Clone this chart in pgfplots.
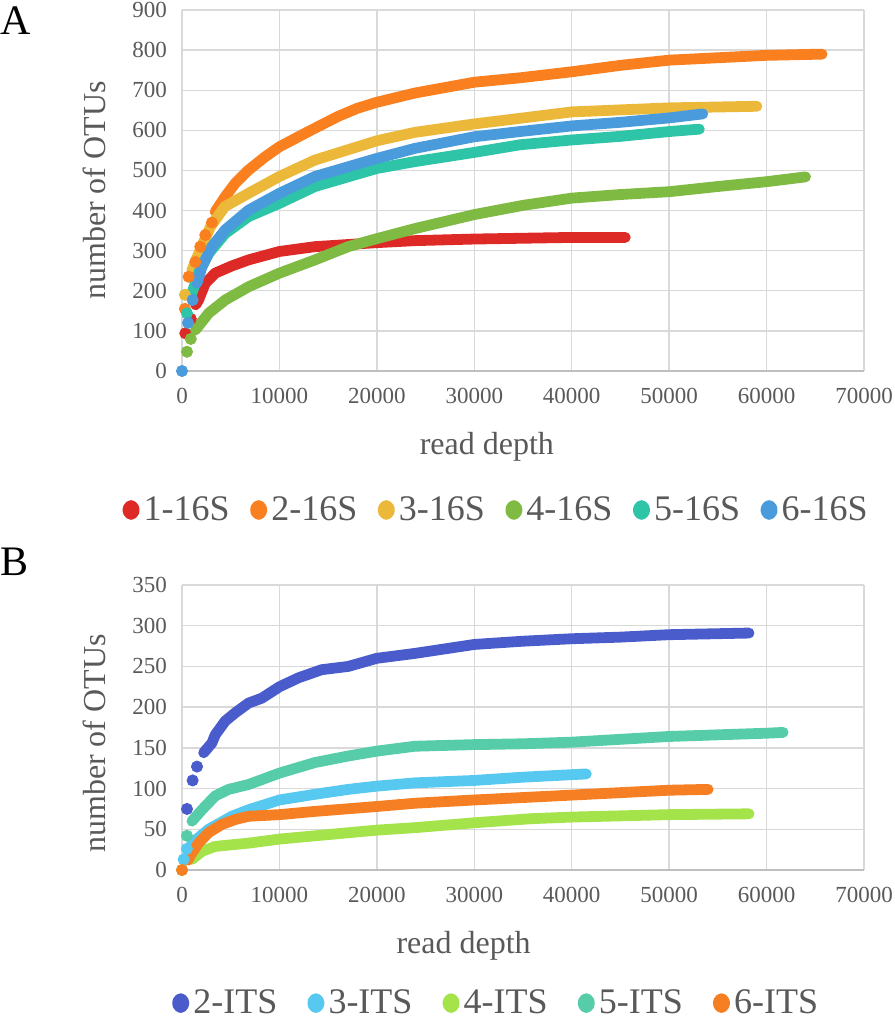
\documentclass[border=0pt]{standalone}
\usepackage{fontspec}
\setmainfont{Liberation Serif}
\usepackage{pgfplots}
\pgfplotsset{compat=1.18}

\definecolor{txt}{RGB}{89,89,89}
\definecolor{gridc}{RGB}{217,217,217}
\definecolor{axc}{RGB}{191,191,191}
% panel A
\definecolor{sA1}{RGB}{222,42,38}
\definecolor{sA2}{RGB}{249,127,31}
\definecolor{sA3}{RGB}{235,184,57}
\definecolor{sA4}{RGB}{127,186,66}
\definecolor{sA5}{RGB}{46,196,168}
\definecolor{sA6}{RGB}{74,155,220}
% panel B
\definecolor{sB2}{RGB}{74,92,203}
\definecolor{sB3}{RGB}{87,200,240}
\definecolor{sB4}{RGB}{165,227,74}
\definecolor{sB5}{RGB}{86,204,168}
\definecolor{sB6}{RGB}{245,127,34}

\pgfplotsset{
  rare/.style={
    scale only axis, width=341pt,
    xmin=0, xmax=70000, xtick={0,10000,...,70000},
    scaled x ticks=false, scaled y ticks=false,
    /pgf/number format/1000 sep={},
    /pgf/number format/assume math mode=true,
    grid=major, grid style={line width=0.7pt, gridc},
    axis lines*=left,
    y axis line style={draw=none},
    x axis line style={line width=1pt, axc},
    major tick length=0pt,
    tick label style={font=\fontsize{11.5}{13}\selectfont, text=txt},
    xticklabel style={yshift=-5pt},
    yticklabel style={xshift=-4pt},
    label style={font=\fontsize{16}{18}\selectfont, text=txt},
    xlabel={read depth},
    ylabel={number of OTUs},
    legend columns=-1,
    legend style={draw=none, fill=none, font=\fontsize{18}{20}\selectfont, text=txt},
    legend image code/.code={\fill[#1] (0.25em,0) ellipse (1.6pt and 2.2pt);},
  },
  band/.style={line width=5.4pt, line cap=round, line join=round},
  dots/.style={only marks, mark=*, mark size=2.8pt, forget plot},
}

\begin{document}
\begin{tikzpicture}
\useasboundingbox (0,0) rectangle (447pt,-510.5pt);
\node[anchor=base west, inner sep=0pt, font=\fontsize{21}{22}\selectfont] at (0pt,-17.5pt) {A};
\node[anchor=base west, inner sep=0pt, font=\fontsize{21}{22}\selectfont] at (0pt,-287.5pt) {B};

%% ---- Panel A: 16S ----
\begin{axis}[rare,
  at={(91pt,-185.5pt)}, anchor=south west, height=180.5pt,
  ymin=0, ymax=900, ytick={0,100,...,900},
  xlabel style={at={(axis description cs:0.447,0)}, anchor=center, yshift=-38pt},
  ylabel style={at={(axis description cs:-0.128,0.5)}, anchor=center},
  legend style={at={(0.462,-0.385)}, anchor=center,
    /tikz/every even column/.append style={column sep=8.2pt}},
]
% 1-16S
\addplot[dots, sA1] coordinates {(340,94) (900,130)};
\addplot[band, sA1] coordinates {
  (1400,165) (1700,177) (2390,219) (3410,244) (5120,262) (6830,277)
  (10000,298) (13650,310) (20000,320) (23900,325) (30000,329)
  (35000,331) (40000,333) (45500,333)};
\addlegendentry{1-16S}
% 2-16S
\addplot[dots, sA2] coordinates {(300,155) (680,235) (1365,272) (1877,310) (2390,339) (3070,370)};
\addplot[band, sA2] coordinates {
  (3410,397) (4440,435) (5460,468) (6830,501) (8530,534) (10000,559)
  (12970,597) (16040,635) (18000,655) (20000,670) (23900,693) (30000,720)
  (34700,731) (40000,746) (45000,762) (50000,775) (55000,781)
  (60000,787) (65700,790)};
\addlegendentry{2-16S}
% 3-16S
\addplot[dots, sA3] coordinates {(300,190)};
\addplot[band, sA3] coordinates {
  (1000,250) (2000,310) (2930,360) (4400,410) (6830,443) (10000,485)
  (13650,526) (20000,574) (23900,595) (30000,616) (34700,630)
  (40000,646) (50000,656) (59000,660)};
\addlegendentry{3-16S}
% 4-16S
\addplot[dots, sA4] coordinates {(510,48) (900,80)};
\addplot[band, sA4] coordinates {
  (1365,102) (2730,144) (4440,177) (6830,210) (10000,244) (13650,277)
  (17060,310) (20000,330) (23900,355) (30000,390) (35000,413)
  (40000,431) (45000,440) (50000,447) (55000,460) (60000,472) (64000,484)};
\addlegendentry{4-16S}
% 5-16S
\addplot[dots, sA5] coordinates {(510,144)};
\addplot[band, sA5] coordinates {
  (1020,194) (1700,244) (2730,293) (4440,343) (6830,385) (10000,418)
  (13650,460) (20000,505) (23900,522) (30000,545) (34700,564)
  (40000,576) (45000,585) (50000,597) (53100,603)};
\addlegendentry{5-16S}
% 6-16S
\addplot[dots, sA6] coordinates {(0,0) (615,120) (1090,177)};
\addplot[band, sA6] coordinates {
  (1540,219) (2050,260) (3070,310) (4440,352) (6830,401) (10000,443)
  (13650,485) (20000,530) (23900,555) (30000,584) (34700,597)
  (40000,611) (45000,620) (50000,631) (53450,641)};
\addlegendentry{6-16S}
\end{axis}

%% ---- Panel B: ITS ----
\begin{axis}[rare,
  at={(91pt,-435pt)}, anchor=south west, height=142.5pt,
  ymin=0, ymax=350, ytick={0,50,...,350},
  xlabel style={at={(axis description cs:0.413,0)}, anchor=center, yshift=-38pt},
  ylabel style={at={(axis description cs:-0.128,0.5)}, anchor=center, xshift=-8pt},
  legend style={at={(0.462,-0.467)}, anchor=center,
    /tikz/every even column/.append style={column sep=13pt}},
]
% 2-ITS
\addplot[dots, sB2] coordinates {(510,75) (1090,110) (1540,127)};
\addplot[band, sB2] coordinates {
  (2220,144) (3070,156) (3410,166) (4440,183) (5460,193) (6830,205)
  (8190,211) (10000,225) (11950,236) (14330,246) (17060,250)
  (20000,260) (23900,266) (30000,277) (35000,281) (40000,284)
  (45000,286) (50000,289) (58200,291)};
\addlegendentry{2-ITS}
% 3-ITS
\addplot[dots, sB3] coordinates {(170,13) (500,26)};
\addplot[band, sB3] coordinates {
  (1020,33) (2730,50) (5120,66) (6830,74) (10000,86) (13650,93)
  (17060,99) (20000,103) (23900,107) (30000,110) (35000,114) (41500,118)};
\addlegendentry{3-ITS}
% 4-ITS
\addplot[dots, sB4] coordinates {(0,0)};
\addplot[band, sB4] coordinates {
  (1020,13) (2050,23) (3410,29) (6830,33) (10000,38) (13650,42)
  (20000,49) (23900,52) (30000,58) (35800,63) (40000,65)
  (50000,68) (58200,69)};
\addlegendentry{4-ITS}
% 5-ITS
\addplot[dots, sB5] coordinates {(510,42)};
\addplot[band, sB5] coordinates {
  (1020,60) (2050,74) (3410,91) (4780,99) (6830,105) (8190,111)
  (10000,119) (13650,132) (17060,140) (20000,146) (23900,152)
  (30000,154) (35000,155) (40000,157) (50000,164) (60000,168) (61700,169)};
\addlegendentry{5-ITS}
% 6-ITS
\addplot[dots, sB6] coordinates {(0,0)};
\addplot[band, sB6] coordinates {
  (600,12) (1020,21) (1700,33) (2730,46) (4100,56) (5460,62) (6830,66)
  (10000,68) (13650,72) (20000,78) (23900,82) (30000,86) (35000,89)
  (40000,92) (45000,95) (50000,98) (54000,99)};
\addlegendentry{6-ITS}
\end{axis}
\end{tikzpicture}
\end{document}
